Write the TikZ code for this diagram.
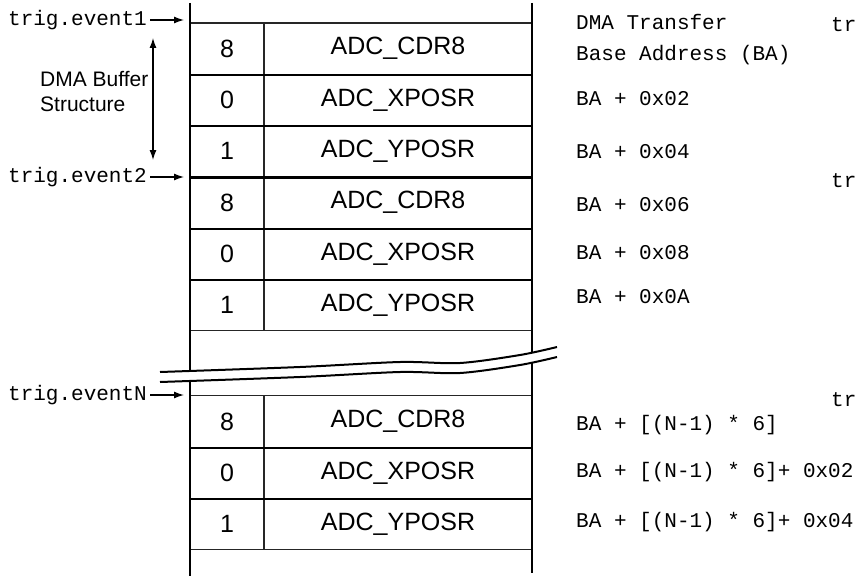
\documentclass[tikz,border=0pt]{standalone}
\usepackage{fontspec}
\setmainfont{Liberation Sans}
\setmonofont{Liberation Mono}
\usetikzlibrary{arrows.meta}

\begin{document}
\begin{tikzpicture}[
    x=1pt, y=-1pt,
    >={Latex[length=10pt,width=7pt]},
    numcell/.style={
        rectangle, draw=black!85, line width=1.1pt,
        minimum width=74pt, minimum height=51.3pt,
        inner sep=0pt, font=\fontsize{25}{30}\selectfont
    },
    namecell/.style={numcell, minimum width=268pt},
    addr/.style={anchor=base west, inner sep=0pt, font=\ttfamily\fontsize{21}{25}\selectfont},
    trig/.style={anchor=east, inner sep=3pt, font=\ttfamily\fontsize{21}{25}\selectfont},
    lbl/.style={anchor=west, align=left, inner sep=0pt, font=\fontsize{21}{25}\selectfont},
    sep/.style={line width=2.2pt},
    rail/.style={line width=2.4pt},
    brk/.style={line width=2pt},
    arr/.style={->, line width=1.3pt}
]
\useasboundingbox (0,0) rectangle (858,578);
% buffer cells
\node[numcell] (n1) at (227,48.65) {8};
\node[namecell] (r1) at (398,48.65) {ADC\_CDR8};
\node[numcell] (n2) at (227,99.95) {0};
\node[namecell] (r2) at (398,99.95) {ADC\_XPOSR};
\node[numcell] (n3) at (227,151.25) {1};
\node[namecell] (r3) at (398,151.25) {ADC\_YPOSR};
\node[numcell] (n4) at (227,202.55) {8};
\node[namecell] (r4) at (398,202.55) {ADC\_CDR8};
\node[numcell] (n5) at (227,253.85) {0};
\node[namecell] (r5) at (398,253.85) {ADC\_XPOSR};
\node[numcell] (n6) at (227,305.15) {1};
\node[namecell] (r6) at (398,305.15) {ADC\_YPOSR};
\node[numcell] (n7) at (227,421.5) {8};
\node[namecell] (r7) at (398,421.5) {ADC\_CDR8};
\node[numcell] (n8) at (227,472.8) {0};
\node[namecell] (r8) at (398,472.8) {ADC\_XPOSR};
\node[numcell] (n9) at (227,524.1) {1};
\node[namecell] (r9) at (398,524.1) {ADC\_YPOSR};
\draw[sep] (n1.south west) -- (r1.south east);
\draw[sep] (n2.south west) -- (r2.south east);
\draw[sep] (n3.south west) -- (r3.south east);
\draw[sep] (n4.south west) -- (r4.south east);
\draw[sep] (n5.south west) -- (r5.south east);
\draw[sep] (n7.south west) -- (r7.south east);
\draw[sep] (n8.south west) -- (r8.south east);
% memory rails
\coordinate (ltop) at (190,3);
\coordinate (lbot) at (190,576);
\coordinate (rtop) at (532,3);
\coordinate (rbot) at (532,573);
\draw[rail] (ltop) -- (lbot);
\draw[rail] (rtop) -- (rbot);
% break mark
\fill[white] plot[smooth] coordinates {(160,372) (300,367) (400,362) (460,363) (520,355) (557,347)}
    -- plot[smooth] coordinates {(557,357) (520,365) (460,373) (400,372) (300,377) (160,382)} -- cycle;
\draw[brk] plot[smooth] coordinates {(160,372) (300,367) (400,362) (460,363) (520,355) (557,347)};
\draw[brk] plot[smooth] coordinates {(160,382) (300,377) (400,372) (460,373) (520,365) (557,357)};
% trigger events
\coordinate (tip) at (184,0);
\node[trig] (ev1) at (150,20) {trig.event1};
\node[trig] (ev2) at (150,177) {trig.event2};
\node[trig] (evN) at (150,395) {trig.eventN};
\draw[arr] (ev1.east) -- (ev1.east -| tip);
\draw[arr] (ev2.east) -- (ev2.east -| tip);
\draw[arr] (evN.east) -- (evN.east -| tip);
\coordinate (buftop) at (153,38);
\coordinate (bufbot) at (153,160);
\draw[<->, line width=1.3pt] (buftop) -- (bufbot);
\node[lbl] (buflbl) at (40,92) {DMA Buffer\\Structure};
% addresses
\node[addr] (dmat) at (576,30) {DMA Transfer};
\node[addr] (baddr) at (576,60) {Base Address (BA)};
\node[addr] (a2) at (576,105) {BA + 0x02};
\node[addr] (a4) at (576,158) {BA + 0x04};
\node[addr] (a6) at (576,211) {BA + 0x06};
\node[addr] (a8) at (576,259) {BA + 0x08};
\node[addr] (aA) at (576,303) {BA + 0x0A};
\node[addr] (aN0) at (576,430) {BA + [(N-1) * 6]};
\node[addr] (aN2) at (576,477) {BA + [(N-1) * 6]+ 0x02};
\node[addr] (aN4) at (576,527) {BA + [(N-1) * 6]+ 0x04};
\node[addr] (tr1) at (831,32) {tr};
\node[addr] (tr2) at (831,187) {tr};
\node[addr] (trN) at (831,406) {tr};
\end{tikzpicture}
\end{document}
